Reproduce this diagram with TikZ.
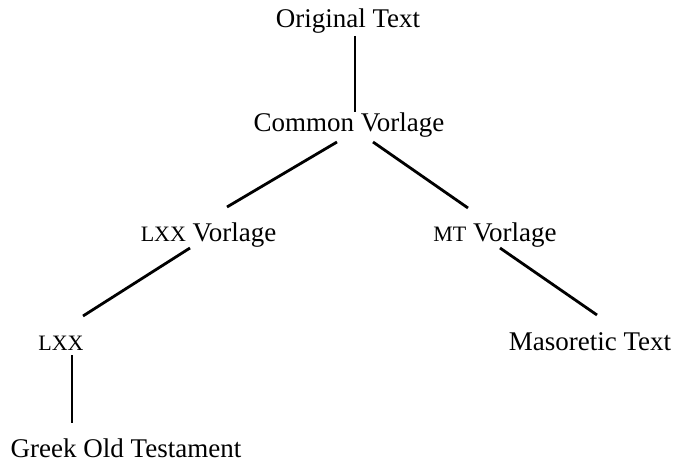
\documentclass[tikz,border=0pt]{standalone}
\usepackage{fontspec}
\setmainfont{Liberation Serif}
\usetikzlibrary{calc}
\newcommand\mysc[1]{{\fontsize{22}{22}\selectfont #1}}
\tikzset{
  lbl/.style={anchor=base, inner sep=0pt, font=\fontsize{27}{27}\selectfont},
  edge/.style={line width=2.8pt}
}
\begin{document}
\begin{tikzpicture}[x=1pt,y=1pt]
\useasboundingbox (0,0) rectangle (676,463);
\node[lbl] (orig) at (348,435) {Original Text};
\node[lbl] (common) at (349,331) {Common Vorlage};
\node[lbl] (lxxv) at (208.5,221) {\mysc{LXX} Vorlage};
\node[lbl] (mtv) at (495,221) {\mysc{MT} Vorlage};
\node[lbl] (lxx) at (61,113) {\mysc{LXX}};
\node[lbl] (mas) at (590,113) {Masoretic Text};
\node[lbl] (greek) at (126,6) {Greek Old Testament};
\draw[edge] ($(orig.base)+(7,-8)$) -- ($(common.base)+(6,20)$);
\draw[edge] ($(common.base)+(-12,-10)$) -- ($(lxxv.base)+(18.5,35)$);
\draw[edge] ($(common.base)+(24,-10)$) -- ($(mtv.base)+(-27,34)$);
\draw[edge] ($(lxxv.base)+(-18.5,-6)$) -- ($(lxx.base)+(22,34)$);
\draw[edge] ($(mtv.base)+(5,-6)$) -- ($(mas.base)+(7,35)$);
\draw[edge] ($(lxx.base)+(11,-5)$) -- ($(greek.base)+(-54,34)$);
\end{tikzpicture}
\end{document}
